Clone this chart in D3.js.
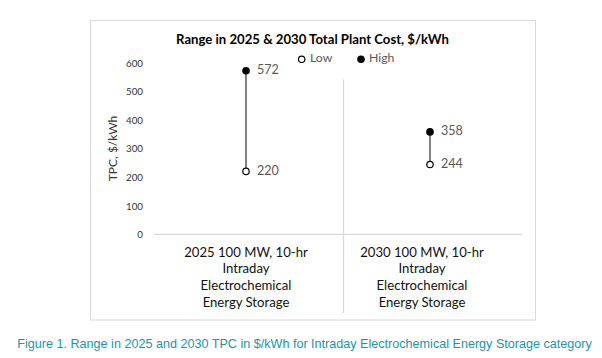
<!DOCTYPE html>
<html>
<head>
<meta charset="utf-8">
<script src="https://cdn.jsdelivr.net/npm/d3@7"></script>
<style>
  html, body { margin: 0; padding: 0; background: #fff; }
  svg { display: block; }
</style>
</head>
<body>
<svg id="chart" width="602" height="358"></svg>
<script>
// ---- data ----
const categories = [
  ["2025 100 MW, 10-hr", "Intraday", "Electrochemical", "Energy Storage"],
  ["2030 100 MW, 10-hr", "Intraday", "Electrochemical", "Energy Storage"]
];
const lowValues = [220, 244];
const highValues = [572, 358];
const yTicks = [0, 100, 200, 300, 400, 500, 600];
const titleText = "Range in 2025 & 2030 Total Plant Cost, $/kWh";
const yAxisTitle = "TPC, $/kWh";
const legendLabels = ["Low", "High"];
const captionText = "Figure 1. Range in 2025 and 2030 TPC in $/kWh for Intraday Electrochemical Energy Storage category";

const FONT = "Lato, 'Open Sans', 'DejaVu Sans', sans-serif";
const BOOST = 1.06;
const svg = d3.select("#chart");

function fit(sel, target, k = 1) {
  const fs = parseFloat(sel.attr("font-size"));
  const w = sel.node().getComputedTextLength();
  if (w > 0) sel.attr("font-size", (k * fs * target / w).toFixed(2));
  return sel;
}

// chart box
svg.append("rect")
  .attr("x", 90.5).attr("y", 20.5).attr("width", 445).attr("height", 299.5)
  .attr("fill", "#fff").attr("stroke", "#d9d9d9").attr("stroke-width", 1);

const x = d3.scaleBand().domain(d3.range(categories.length)).range([154, 522]);
const y = d3.scaleLinear().domain([0, 600]).range([234.3, 62.7]);

// title
fit(svg.append("text")
  .attr("x", 312.5).attr("y", 44).attr("text-anchor", "middle")
  .attr("font-family", FONT).attr("font-weight", "bold").attr("font-size", 13)
  .attr("fill", "#000").text(titleText), 265, 1.03);

// y axis tick labels
const yAxis = d3.axisLeft(y).tickValues(yTicks).tickSize(0).tickPadding(0);
const yg = svg.append("g").attr("transform", "translate(143,0)").call(yAxis);
yg.select(".domain").remove();
yg.selectAll("text")
  .attr("font-family", FONT).attr("font-size", 10).attr("fill", "#333")
  .attr("dy", "0.35em");
yg.selectAll("text").filter(d => d === 600).each(function () { fit(d3.select(this), 16, BOOST); });
const tfs = yg.selectAll("text").filter(d => d === 600).attr("font-size");
yg.selectAll("text").attr("font-size", tfs);

// y axis title
fit(svg.append("text")
  .attr("transform", `translate(117,${(y(0) + y(600)) / 2}) rotate(-90)`)
  .attr("text-anchor", "middle")
  .attr("font-family", FONT).attr("font-size", 11).attr("fill", "#333")
  .text(yAxisTitle), 62, BOOST);

// category axis line
svg.append("line")
  .attr("x1", 154).attr("x2", 522).attr("y1", y(0)).attr("y2", y(0))
  .attr("stroke", "#d9d9d9").attr("stroke-width", 1.3);

// divider between categories
svg.append("line")
  .attr("x1", x(1) + 5.5).attr("x2", x(1) + 5.5).attr("y1", 79.3).attr("y2", 313)
  .attr("stroke", "#d9d9d9").attr("stroke-width", 1.3);

// category labels
const catG = svg.append("g");
let catFs = null;
categories.forEach((lines, i) => {
  const t = catG.append("text")
    .attr("x", x(i) + x.bandwidth() / 2 + (i === 1 ? -8 : 0))
    .attr("text-anchor", "middle")
    .attr("font-family", FONT).attr("font-size", catFs || 12).attr("fill", "#111");
  lines.forEach((ln, j) => {
    t.append("tspan").attr("x", t.attr("x")).attr("y", 253.3 + j * 16.7)
      .attr("dominant-baseline", "middle").text(ln);
  });
  if (!catFs) {
    const first = t.select("tspan").node();
    const w = first.getComputedTextLength();
    catFs = (BOOST * 12 * 116.7 / w).toFixed(2);
    t.attr("font-size", catFs);
  }
});

// range lines
const cx = i => x(i) + x.bandwidth() / 2;
svg.append("g").selectAll("line").data(categories).join("line")
  .attr("x1", (d, i) => cx(i)).attr("x2", (d, i) => cx(i))
  .attr("y1", (d, i) => y(lowValues[i])).attr("y2", (d, i) => y(highValues[i]))
  .attr("stroke", "#595959").attr("stroke-width", 1.5);

// markers
svg.append("g").selectAll("circle").data(lowValues).join("circle")
  .attr("cx", (d, i) => cx(i)).attr("cy", d => y(d)).attr("r", 3.2)
  .attr("fill", "#fff").attr("stroke", "#000").attr("stroke-width", 1.2);
svg.append("g").selectAll("circle").data(highValues).join("circle")
  .attr("cx", (d, i) => cx(i)).attr("cy", d => y(d)).attr("r", 3.8)
  .attr("fill", "#000");

// data labels
const lab = svg.append("g").attr("font-family", FONT).attr("fill", "#595959");
const allVals = highValues.map((v, i) => ({ v, i })).concat(lowValues.map((v, i) => ({ v, i })));
const labs = lab.selectAll("text").data(allVals).join("text")
  .attr("x", d => cx(d.i) + 11).attr("y", d => y(d.v))
  .attr("dominant-baseline", "middle").attr("font-size", 12)
  .text(d => d.v);
const lfs = (BOOST * 12 * 20.6 / labs.node().getComputedTextLength()).toFixed(2);
labs.attr("font-size", lfs);

// legend
const lg = svg.append("g").attr("font-family", FONT);
lg.append("circle").attr("cx", 301.7).attr("cy", 59.3).attr("r", 3.2)
  .attr("fill", "#fff").attr("stroke", "#000").attr("stroke-width", 1.2);
const lt1 = lg.append("text").attr("x", 310).attr("y", 59.3).attr("dominant-baseline", "middle")
  .attr("font-size", 12).attr("fill", "#595959").text(legendLabels[0]);
lg.append("circle").attr("cx", 361).attr("cy", 59.3).attr("r", 3.8).attr("fill", "#000");
const lt2 = lg.append("text").attr("x", 369).attr("y", 59.3).attr("dominant-baseline", "middle")
  .attr("font-size", 12).attr("fill", "#595959").text(legendLabels[1]);
fit(lt2, 24, BOOST);
lt1.attr("font-size", lt2.attr("font-size"));

// caption
fit(svg.append("text")
  .attr("x", 17.3).attr("y", 347.5)
  .attr("font-family", "'Liberation Sans', Arial, sans-serif").attr("font-size", 12)
  .attr("fill", "#2196a8").text(captionText), 575);
</script>
</body>
</html>
